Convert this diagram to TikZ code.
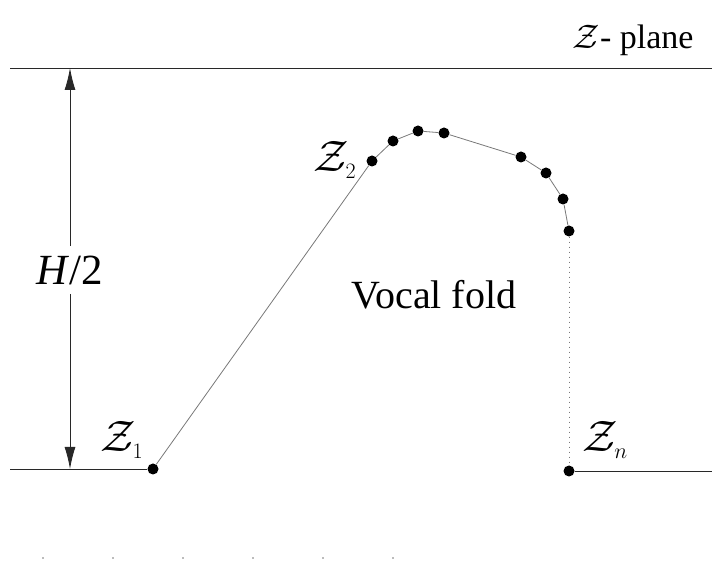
\RequirePackage{fix-cm}
\documentclass[tikz,border=0pt]{standalone}
\usepackage{fontspec}
\setmainfont{Liberation Serif}
\usepackage{tikz}
\usetikzlibrary{arrows.meta, positioning}
\definecolor{FoldInk}{RGB}{40, 40, 40}
\definecolor{FoldGrey}{RGB}{120, 120, 120}
\tikzset{
  knot/.style={circle, fill=black, inner sep=0pt, minimum size=11pt},
  wall/.style={draw=FoldInk, line width=0.9pt},
  chord/.style={draw=FoldGrey, line width=0.8pt},
  gapline/.style={draw=FoldGrey, line width=1pt, loosely dotted},
  dimarrow/.style={draw=FoldInk, line width=0.9pt, -{Latex[length=22pt, width=11pt]}},
  zlabel/.style={font=\fontsize{44}{48}\selectfont, inner sep=0pt},
}

\begin{document}
\begin{tikzpicture}[x=1pt,y=1pt]
  \path[use as bounding box] (0,0) rectangle (712,562);

  % walls of the channel
  \coordinate (topleft) at (10,494);
  \coordinate (topright) at (712,494);
  \coordinate (botleft) at (10,93);
  \coordinate (botright) at (712,91);
  \draw[wall] (topleft) -- (topright);

  % points on the fold
  \node[knot] (z1) at (153,93) {};
  \node[knot] (z2) at (372,401) {};
  \node[knot] (k3) at (393,421) {};
  \node[knot] (k4) at (418,431) {};
  \node[knot] (k5) at (444,429) {};
  \node[knot] (k6) at (521,405) {};
  \node[knot] (k7) at (546,389) {};
  \node[knot] (k8) at (563,363) {};
  \node[knot] (k9) at (569,331) {};
  \node[knot] (zn) at (569,91) {};

  \draw[wall] (botleft) -- (z1);
  \draw[chord] (z1) -- (z2);
  \draw[chord] (z2) -- (k3) -- (k4) -- (k5) -- (k6) -- (k7) -- (k8) -- (k9);
  \draw[gapline] (k9) -- (zn);
  \draw[wall] (zn) -- (botright);

  % half height
  \node[font=\fontsize{43}{47}\selectfont] (half) at (70,292) {\textit{H}/2};
  \coordinate (dimtop) at (70,494);
  \coordinate (dimbot) at (70,93);
  \draw[dimarrow] (half.north) ++(0,6) -- (dimtop);
  \draw[dimarrow] (half.south) ++(0,-6) -- (dimbot);

  % labels
  \node[zlabel] (lz1) at (122,122) {$\mathcal{Z}_{\scriptscriptstyle 1}$};
  \node[zlabel] (lz2) at (335,402) {$\mathcal{Z}_{\scriptscriptstyle 2}$};
  \node[zlabel] (lzn) at (605,122) {$\mathcal{Z}_{\scriptscriptstyle n}$};
  \node[font=\fontsize{40}{44}\selectfont] (fold) at (434,267) {Vocal fold};
  \node[font=\fontsize{34}{38}\selectfont, anchor=east] (plane) at (697,522) {$\mathcal{Z}$- plane};

  % faint ticks along the foot
  \foreach \tx in {43,113,183,253,323,393}
    \fill[FoldGrey] (\tx,4) circle (0.9);
\end{tikzpicture}
\end{document}
